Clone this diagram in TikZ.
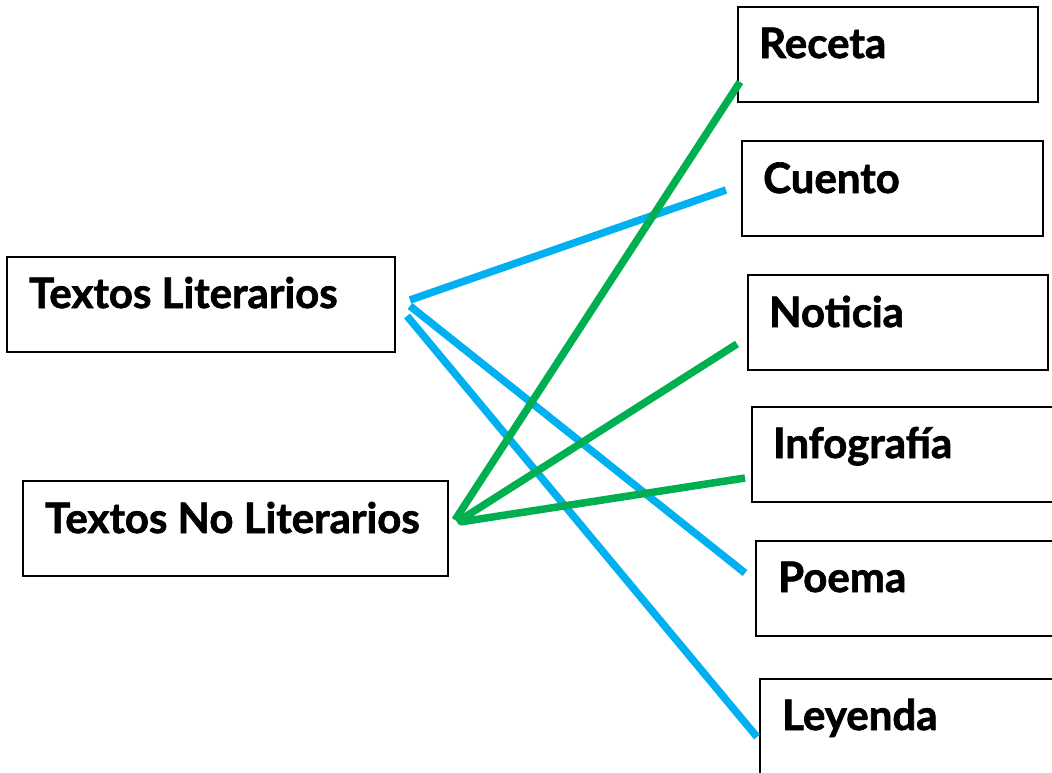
\documentclass[tikz,border=0pt]{standalone}
\usepackage{fontspec}
\setmainfont{Lato}[BoldFeatures={FakeBold=1.6}]
\definecolor{lblue}{RGB}{0,176,240}
\definecolor{lgreen}{RGB}{0,176,80}
\begin{document}
\begin{tikzpicture}[x=1pt,y=-1pt,
  box/.style={draw=black,line width=2.4pt,inner sep=0pt},
  lbl/.style={anchor=base west,inner sep=0pt,font=\fontsize{42}{42}\selectfont\bfseries},
  blueline/.style={draw=lblue,line width=7.5pt},
  greenline/.style={draw=lgreen,line width=7.5pt}]
\useasboundingbox (0,0) rectangle (1052,772);
\fill[white] (0,0) rectangle (1052,772);
% left boxes
\draw[box] (7,257) rectangle (395,352);
\node[lbl] (tl) at (29,308) {Textos Literarios};
\draw[box] (23,481) rectangle (448,576);
\node[lbl] (tnl) at (45,533) {Textos No Literarios};
% right boxes
\draw[box] (738,7) rectangle (1038,102);
\node[lbl] (rec) at (759,58) {Receta};
\draw[box] (742,141) rectangle (1043,236);
\node[lbl] (cue) at (763,193) {Cuento};
\draw[box] (748,275) rectangle (1048,370);
\node[lbl] (not) at (769,327) {Noticia};
\draw[box] (752,407) rectangle (1053,502);
\node[lbl] (inf) at (773,458) {Infografía};
\draw[box] (756,541) rectangle (1060,636);
\node[lbl] (poe) at (778,592) {Poema};
\draw[box] (760,679) rectangle (1060,790);
\node[lbl] (ley) at (782,730) {Leyenda};
% connector ends
\coordinate (b1s) at (410,300); \coordinate (b1e) at (726,190);
\coordinate (b2s) at (410,306); \coordinate (b2e) at (745,573);
\coordinate (b3s) at (407,316); \coordinate (b3e) at (757,737);
\coordinate (g1s) at (455,520); \coordinate (g1e) at (740,82);
\coordinate (g2s) at (457,522); \coordinate (g2e) at (737,344);
\coordinate (g3s) at (460,522); \coordinate (g3e) at (745,478);
\draw[blueline] (b1s) -- (b1e);
\draw[blueline] (b2s) -- (b2e);
\draw[blueline] (b3s) -- (b3e);
\draw[greenline] (g1s) -- (g1e);
\draw[greenline] (g2s) -- (g2e);
\draw[greenline] (g3s) -- (g3e);
\end{tikzpicture}
\end{document}
